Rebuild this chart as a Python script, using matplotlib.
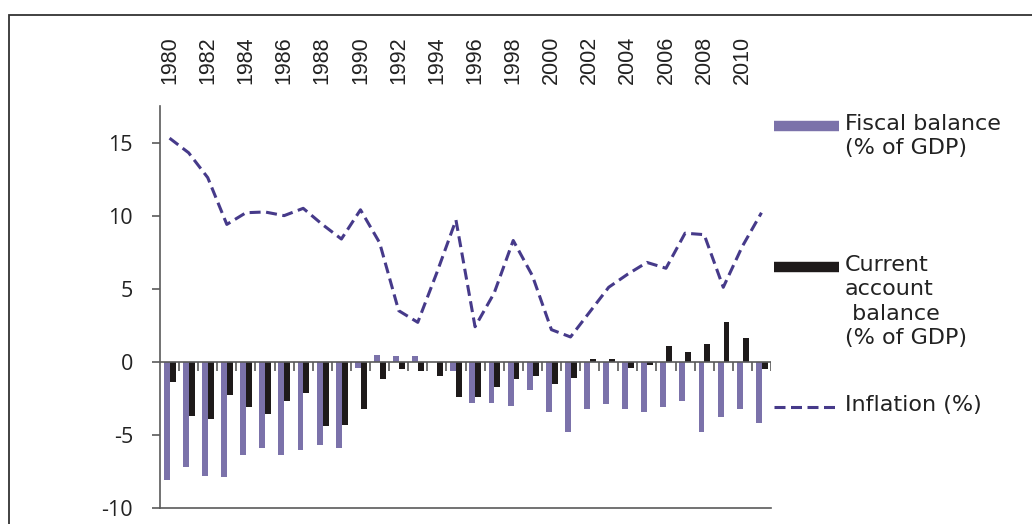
import matplotlib
matplotlib.use("Agg")
import matplotlib.pyplot as plt
from matplotlib.lines import Line2D
from matplotlib.patches import Rectangle
import numpy as np

years = list(range(1980, 2012))
fiscal = [-8.1, -7.2, -7.8, -7.9, -6.4, -5.9, -6.4, -6.0, -5.7, -5.9,
          -0.4, 0.5, 0.4, 0.4, 0.0, -0.6, -2.8, -2.8, -3.0, -1.9,
          -3.4, -4.8, -3.2, -2.9, -3.2, -3.4, -3.1, -2.7, -4.8, -3.8,
          -3.2, -4.2]
current = [-1.4, -3.7, -3.9, -2.3, -3.1, -3.6, -2.7, -2.1, -4.4, -4.3,
           -3.2, -1.2, -0.5, -0.6, -1.0, -2.4, -2.4, -1.7, -1.2, -1.0,
           -1.5, -1.1, 0.2, 0.2, -0.4, -0.2, 1.05, 0.7, 1.25, 2.7,
           1.65, -0.5]
inflation = [15.3, 14.3, 12.6, 9.4, 10.2, 10.25, 10.0, 10.5, 9.4, 8.4,
             10.4, 8.15, 3.5, 2.7, 6.1, 9.7, 2.4, 4.7, 8.3, 5.9,
             2.2, 1.7, 3.4, 5.1, 6.0, 6.8, 6.4, 8.8, 8.7, 5.1,
             7.9, 10.2]
yticks = [-10, -5, 0, 5, 10, 15]

PURPLE = '#7b72aa'
BLACK = '#1e1a1a'
LINE = '#463a8a'
GREY = '#5a5a5a'
W, H = 1032, 524

plt.rcParams['font.family'] = ['Open Sans', 'DejaVu Sans']

fig = plt.figure(figsize=(W / 100, H / 100), dpi=100)
ax = fig.add_axes([160 / W, 1 - 508 / H, (771 - 160) / W, (508 - 106) / H])

x = np.arange(len(years))
ax.bar(x - 0.14, fiscal, width=0.31, color=PURPLE, zorder=2)
ax.bar(x + 0.17, current, width=0.31, color=BLACK, zorder=2)
ax.plot(x, inflation, color=LINE, lw=2.2, linestyle=(0, (3.6, 1.8)), zorder=3)

# zero line with category tick marks below it
ax.axhline(0, color=GREY, lw=1.2, zorder=4)
ax.vlines(x + 0.5, -0.62, 0, color=GREY, lw=1.2, zorder=4)

ax.set_xlim(-0.5, len(years) - 0.5)
ax.set_ylim(-10, 17.5)
ax.set_yticks(yticks)
ax.set_yticklabels([str(v) for v in yticks], fontsize=15.5, color='#222222')
ax.tick_params(axis='y', length=6, width=1.2, color=GREY, pad=13.5)

ax.xaxis.tick_top()
even = [i for i, yr in enumerate(years) if yr % 2 == 0]
ax.set_xticks(even)
ax.set_xticklabels([str(years[i]) for i in even], rotation=90,
                   family=['Liberation Sans Narrow', 'Liberation Sans'],
                   fontsize=15.5, color='#222222')
ax.tick_params(axis='x', length=0, pad=16)

for s in ('top', 'right'):
    ax.spines[s].set_visible(False)
for s in ('left', 'bottom'):
    ax.spines[s].set_color(GREY)
    ax.spines[s].set_linewidth(1.2)

# legend drawn by hand, Excel style
def px(xp, yp):
    return xp / W, 1 - yp / H

entries = [
    ("Fiscal balance\n(% of GDP)", 126, dict(color=PURPLE, lw=7.5, solid_capstyle='butt')),
    ("Current\naccount\n balance\n(% of GDP)", 267, dict(color=BLACK, lw=7.5, solid_capstyle='butt')),
    ("Inflation (%)", 407, dict(color=LINE, lw=2.2, linestyle=(0, (3.6, 1.8)))),
]
for label, yp, style in entries:
    x0, y0 = px(774, yp)
    x1, _ = px(839, yp)
    fig.add_artist(Line2D([x0, x1], [y0, y0], transform=fig.transFigure, **style))
    tx, ty = px(845, yp - 12)
    fig.text(tx, ty, label, fontsize=16, family=['DejaVu Sans'], color='#222222',
             va='top', ha='left', linespacing=1.27)

# outer frame
fx, fy = px(9, 15)
fig.add_artist(Rectangle((fx, -0.1), 1.5, fy + 0.1, transform=fig.transFigure,
                         fill=False, ec='#333333', lw=1.3))

fig.savefig('out.png', dpi=100)
